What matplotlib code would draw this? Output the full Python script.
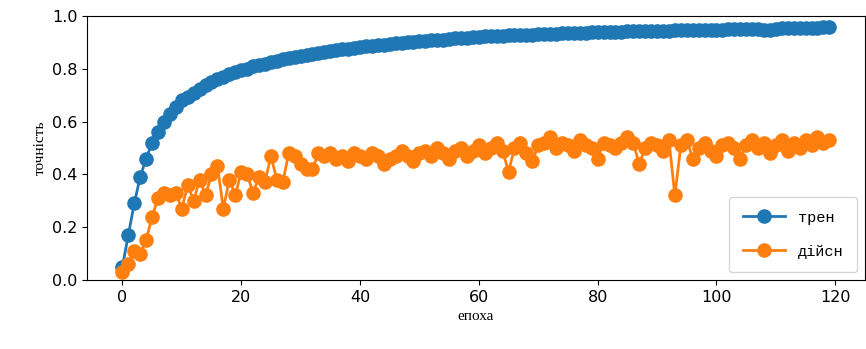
import numpy as np
import matplotlib
matplotlib.use("Agg")
import matplotlib.pyplot as plt

# accuracy per epoch
train_acc = [
    0.05, 0.17, 0.29, 0.39, 0.46, 0.52, 0.56, 0.60, 0.63, 0.655,
    0.68, 0.695, 0.71, 0.725, 0.74, 0.75, 0.76, 0.77, 0.78, 0.787,
    0.795, 0.80, 0.81, 0.815, 0.82, 0.826, 0.83, 0.836, 0.84, 0.845,
    0.85, 0.853, 0.857, 0.86, 0.864, 0.867, 0.87, 0.874, 0.877, 0.88,
    0.883, 0.885, 0.887, 0.889, 0.891, 0.893, 0.896, 0.898, 0.90, 0.902,
    0.904, 0.906, 0.908, 0.91, 0.911, 0.913, 0.915, 0.916, 0.918, 0.92,
    0.922, 0.923, 0.924, 0.925, 0.926, 0.927, 0.928, 0.929, 0.93, 0.93,
    0.931, 0.932, 0.933, 0.933, 0.934, 0.935, 0.936, 0.936, 0.937, 0.938,
    0.938, 0.939, 0.94, 0.94, 0.941, 0.942, 0.942, 0.943, 0.943, 0.944,
    0.944, 0.945, 0.945, 0.946, 0.946, 0.947, 0.946, 0.947, 0.948, 0.948,
    0.949, 0.949, 0.95, 0.95, 0.951, 0.951, 0.952, 0.95, 0.946, 0.949,
    0.952, 0.953, 0.954, 0.954, 0.955, 0.955, 0.956, 0.956, 0.957, 0.957,
]
val_acc = [
    0.03, 0.06, 0.11, 0.10, 0.15, 0.24, 0.31, 0.33, 0.32, 0.33,
    0.27, 0.36, 0.30, 0.38, 0.32, 0.40, 0.43, 0.27, 0.38, 0.32,
    0.41, 0.40, 0.33, 0.39, 0.37, 0.47, 0.38, 0.37, 0.48, 0.47,
    0.44, 0.42, 0.42, 0.48, 0.47, 0.48, 0.46, 0.47, 0.45, 0.48,
    0.47, 0.46, 0.48, 0.47, 0.44, 0.46, 0.47, 0.49, 0.47, 0.45,
    0.48, 0.49, 0.47, 0.50, 0.48, 0.46, 0.49, 0.50, 0.47, 0.49,
    0.51, 0.48, 0.50, 0.52, 0.49, 0.41, 0.50, 0.52, 0.48, 0.45,
    0.51, 0.52, 0.54, 0.50, 0.52, 0.51, 0.49, 0.53, 0.51, 0.50,
    0.46, 0.52, 0.51, 0.50, 0.52, 0.54, 0.52, 0.44, 0.50, 0.52,
    0.51, 0.49, 0.53, 0.32, 0.51, 0.53, 0.46, 0.50, 0.52, 0.49,
    0.47, 0.51, 0.52, 0.50, 0.46, 0.51, 0.53, 0.50, 0.52, 0.48,
    0.51, 0.53, 0.49, 0.52, 0.50, 0.53, 0.51, 0.54, 0.52, 0.53,
]
epochs = np.arange(len(train_acc))

fig = plt.figure(figsize=(8.66, 3.49), dpi=100)
ax = fig.add_axes([0.1005, 0.198, 0.898, 0.756])

ax.plot(epochs, train_acc, "o-", color="#1f77b4", markersize=9.5, linewidth=2, label="трен")
ax.plot(epochs, val_acc, "o-", color="#ff7f0e", markersize=9.5, linewidth=2, label="дійсн")

ax.set_ylim(0, 1.0)
ax.set_xticks([0, 20, 40, 60, 80, 100, 120])
ax.set_yticks([0.0, 0.2, 0.4, 0.6, 0.8, 1.0])
ax.tick_params(labelsize=11.5)

ax.set_xlabel("епоха", family="Liberation Serif", fontsize=11)
ax.set_ylabel("точність", family="Liberation Serif", fontsize=11)

ax.legend(loc="lower right", prop={"family": "Liberation Mono", "size": 11},
          handlelength=2.8, borderpad=0.9, labelspacing=1.3)

fig.savefig("out.png", dpi=100)
